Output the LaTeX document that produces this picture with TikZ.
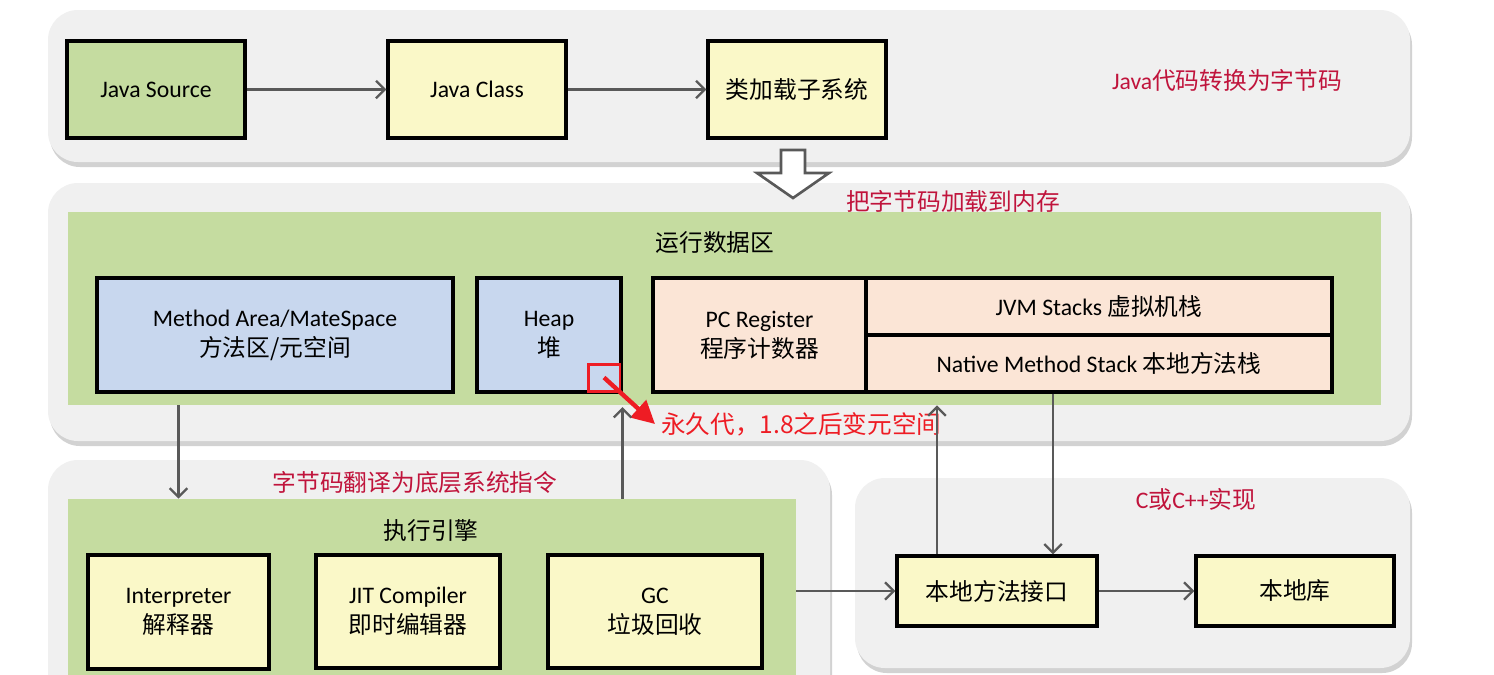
\documentclass[tikz,border=0pt]{standalone}
\usepackage{fontspec}
\setmainfont{Carlito}
\newfontfamily\cjk{Noto Sans CJK SC}
\newcommand\zh[1]{{\cjk #1}}
\usetikzlibrary{arrows.meta}
\definecolor{panelgray}{HTML}{F0F0F0}
\definecolor{shadowgray}{HTML}{D2D2D2}
\definecolor{areagreen}{HTML}{C5DCA0}
\definecolor{boxyellow}{HTML}{FAF8C8}
\definecolor{boxblue}{HTML}{C8D7EE}
\definecolor{boxpink}{HTML}{FBE5D6}
\definecolor{linegray}{HTML}{595959}
\definecolor{headred}{HTML}{C0143C}
\definecolor{notered}{HTML}{EE1C24}
\begin{document}
\begin{tikzpicture}
  [
    x=0.02cm, y=-0.02cm,
    box/.style={draw=black, line width=1.8pt, fill=boxyellow, align=center,
      inner sep=1mm, font=\fontsize{13.5}{17}\selectfont},
    area/.style={fill=areagreen, inner sep=0pt},
    title/.style={font=\fontsize{13.5}{17}\selectfont},
    head/.style={title, text=headred},
    panel/.style={fill=panelgray, rounded corners=0.6cm},
    ld/.style={draw=linegray, line width=1.3pt,
      -{Straight Barb[length=5pt,width=10pt]}}
  ]
  \useasboundingbox (0,0) rectangle (1494,674);
  \clip (0,0) rectangle (1494,674);
  \fill[white] (0,0) rectangle (1494,674);

  % panels
  \foreach \a/\b/\c/\d in {48/10/1410/162, 48/183/1410/441, 48/460/830/720, 855/478/1410/668} {
    \fill[shadowgray, rounded corners=0.6cm] (\a+2,\b+5) rectangle (\c+2,\d+5);
    \fill[panel] (\a,\b) rectangle (\c,\d);
  }
  \node (rda) at (724.5,308.5) [area, minimum width=26.26cm, minimum height=3.86cm] {};
  \node (exe) at (432,599.5) [area, minimum width=14.56cm, minimum height=4.02cm] {};

  % titles
  \node (h1) at (1227,80) [head] {Java\zh{代码转换为字节码}};
  \node (h2) at (953,201) [head] {\zh{把字节码加载到内存}};
  \node (h3) at (415,482) [head] {\zh{字节码翻译为底层系统指令}};
  \node (h4) at (1196,499) [head] {C\zh{或}C++\zh{实现}};
  \node (t1) at (715,243) [title] {\zh{运行数据区}};
  \node (t2) at (431,530) [title] {\zh{执行引擎}};

  % boxes
  \node (src) at (156,89.5) [box, fill=areagreen, minimum width=3.56cm, minimum height=1.94cm] {Java Source};
  \node (cls) at (477,89.5) [box, minimum width=3.56cm, minimum height=1.94cm] {Java Class};
  \node (ldr) at (797,89.5) [box, minimum width=3.56cm, minimum height=1.94cm] {\zh{类加载子系统}};
  \node (meth) at (275,335) [box, fill=boxblue, minimum width=7.12cm, minimum height=2.28cm] {Method Area/MateSpace\\\zh{方法区/元空间}};
  \node (heap) at (549,335) [box, fill=boxblue, minimum width=2.88cm, minimum height=2.28cm] {Heap\\\zh{堆}};
  \node (pc) at (759.5,335) [box, fill=boxpink, minimum width=4.26cm, minimum height=2.28cm] {PC Register\\\zh{程序计数器}};
  \node (jvms) at (1099,306.5) [box, fill=boxpink, minimum width=9.32cm, minimum height=1.14cm] {JVM Stacks \zh{虚拟机栈}};
  \node (nms) at (1099,363.5) [box, fill=boxpink, minimum width=9.32cm, minimum height=1.14cm] {Native Method Stack \zh{本地方法栈}};
  \node (interp) at (178.5,612) [box, minimum width=3.62cm, minimum height=2.28cm] {Interpreter\\\zh{解释器}};
  \node (jit) at (408,611.5) [box, minimum width=3.68cm, minimum height=2.26cm] {JIT Compiler\\\zh{即时编辑器}};
  \node (gc) at (655,611.5) [box, minimum width=4.28cm, minimum height=2.26cm] {GC\\\zh{垃圾回收}};
  \node (jni) at (997,591) [box, minimum width=4cm, minimum height=1.4cm] {\zh{本地方法接口}};
  \node (lib) at (1295,591) [box, minimum width=3.96cm, minimum height=1.4cm] {\zh{本地库}};

  % hollow arrow
  \draw[linegray, line width=1.5pt, fill=white] (781,150) -- (805,150) -- (805,173) -- (829,173)
    -- (793,198) -- (757,173) -- (781,173) -- cycle;

  % note
  \node (perm) at (604,377.5) [draw=notered, line width=1.7pt, minimum width=0.64cm, minimum height=0.54cm] {};
  \node (permnote) at (655,424) [anchor=west, text=notered, font=\fontsize{14}{16}\selectfont] {\zh{永久代，1.8之后变元空间}};
  \draw[notered, line width=2.5pt, -{Triangle[length=13pt,width=13pt]}] (perm.center) -- (permnote.west);

  \draw [ld] (src) -- (cls);
  \draw [ld] (cls) -- (ldr);
  \draw [ld] (rda.south -| interp) -- (exe.north -| interp);
  \draw [ld, shorten >=1pt] (exe.north -| heap.east) -- (rda.south -| heap.east);
  \draw [ld] (exe.east |- jni) -- (jni);
  \draw [ld] (jni) -- (lib);
  \draw [ld] ([xshift=-1.2cm]jni.north) -- ([xshift=-1.2cm]jni.north |- rda.south);
  \draw [ld] ([xshift=-0.92cm]nms.south) -- ([xshift=-0.92cm]nms.south |- jni.north);
\end{tikzpicture}
\end{document}
